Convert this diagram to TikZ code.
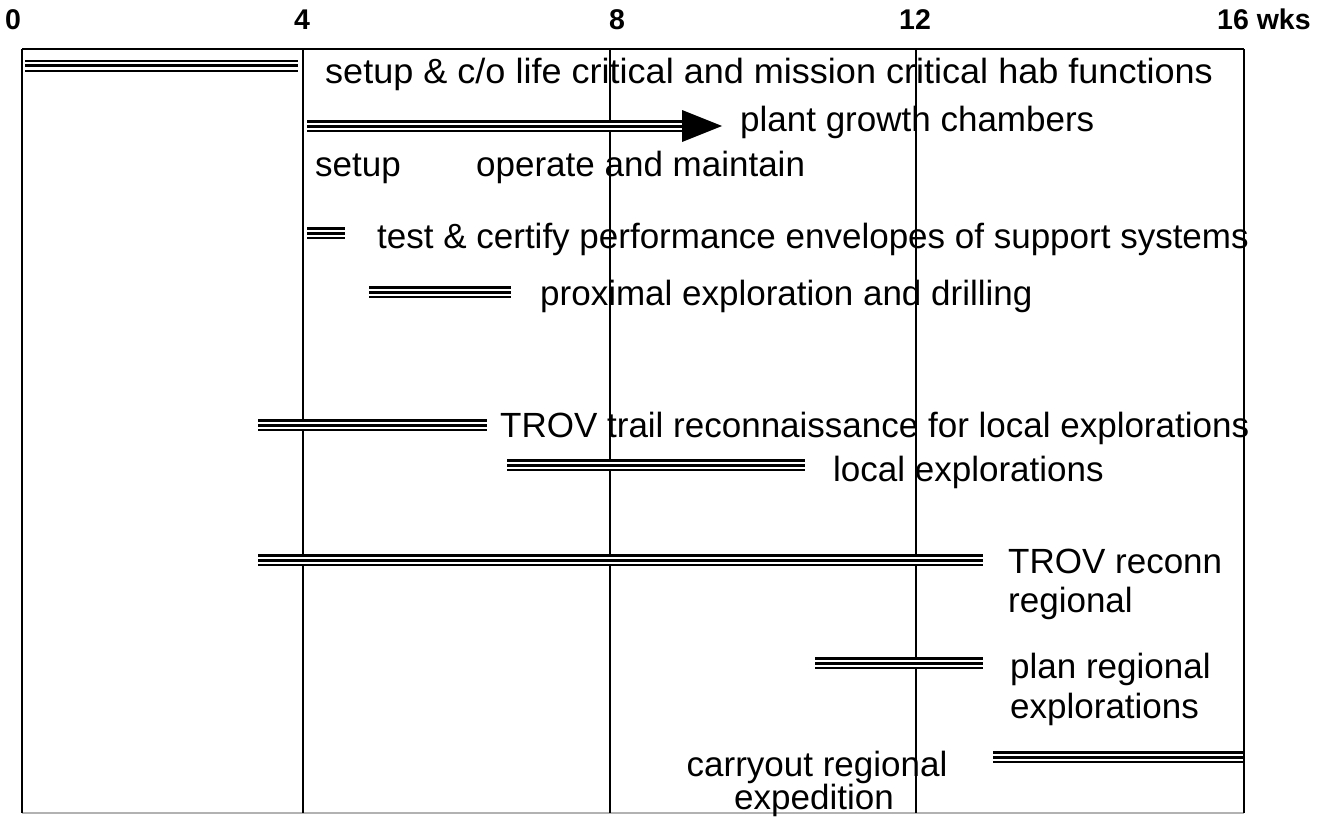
\documentclass[tikz,border=0pt]{standalone}
\usepackage{fontspec}
\setmainfont{Liberation Sans}
\begin{document}
\begin{tikzpicture}[x=1pt,y=-1pt,
  trip/.style={draw, line width=12.5pt, postaction={draw, white, line width=7pt}, postaction={draw, black, line width=3pt}},
  grid/.style={line width=1.4pt},
  lbl/.style={font=\fontsize{35}{40}\selectfont, inner sep=0pt, anchor=base west},
  ax/.style={font=\bfseries\fontsize{28.5}{32}\selectfont, inner sep=0pt, anchor=base}]
\useasboundingbox (0,0) rectangle (1327,816);
% frame and grid
\draw[grid] (22,49) -- (1244,49);
\draw[grid, gray!60] (22,813) -- (1244,813);
\foreach \gx in {22,303,610,916,1244} \draw[grid] (\gx,49) -- (\gx,813);
% axis labels
\node[ax] (a0) at (13,30) {0};
\node[ax] (a4) at (302,30) {4};
\node[ax] (a8) at (617,30) {8};
\node[ax] (a12) at (915,30) {12};
\node[ax, anchor=base west] (a16) at (1217,30) {16 wks};
% bars
\draw[trip] (25,66) -- (298,66);
\draw[trip] (307,126) -- (684,126);
\fill (682,110) -- (722,126) -- (682,142) -- cycle;
\draw[trip] (307,233) -- (345,233);
\draw[trip] (369,292) -- (511,292);
\draw[trip] (258,425) -- (487,425);
\draw[trip] (507,465) -- (805,465);
\draw[trip] (258,560) -- (983,560);
\draw[trip] (815,663) -- (983,663);
\draw[trip] (993,757) -- (1243,757);
% labels
\node[lbl] (t1) at (325,83) {\scalebox{1.03}[1]{setup \& c/o life critical and mission critical hab functions}};
\node[lbl] (t2) at (740,131) {plant growth chambers};
\node[lbl] (t2a) at (315,176) {setup};
\node[lbl] (t2b) at (476,176) {operate and maintain};
\node[lbl] (t3) at (377,248) {test \& certify performance envelopes of support systems};
\node[lbl] (t4) at (540,305) {proximal exploration and drilling};
\node[lbl] (t5) at (500,437) {TROV trail reconnaissance for local explorations};
\node[lbl] (t6) at (833,481) {local explorations};
\node[lbl] (t7a) at (1008,573) {TROV reconn};
\node[lbl] (t7b) at (1008,612) {regional};
\node[lbl] (t8a) at (1010,678) {plan regional};
\node[lbl] (t8b) at (1010,718) {explorations};
\node[lbl, anchor=base] (t9a) at (817,776) {carryout regional};
\node[lbl, anchor=base] (t9b) at (814,809) {expedition};
\end{tikzpicture}
\end{document}
